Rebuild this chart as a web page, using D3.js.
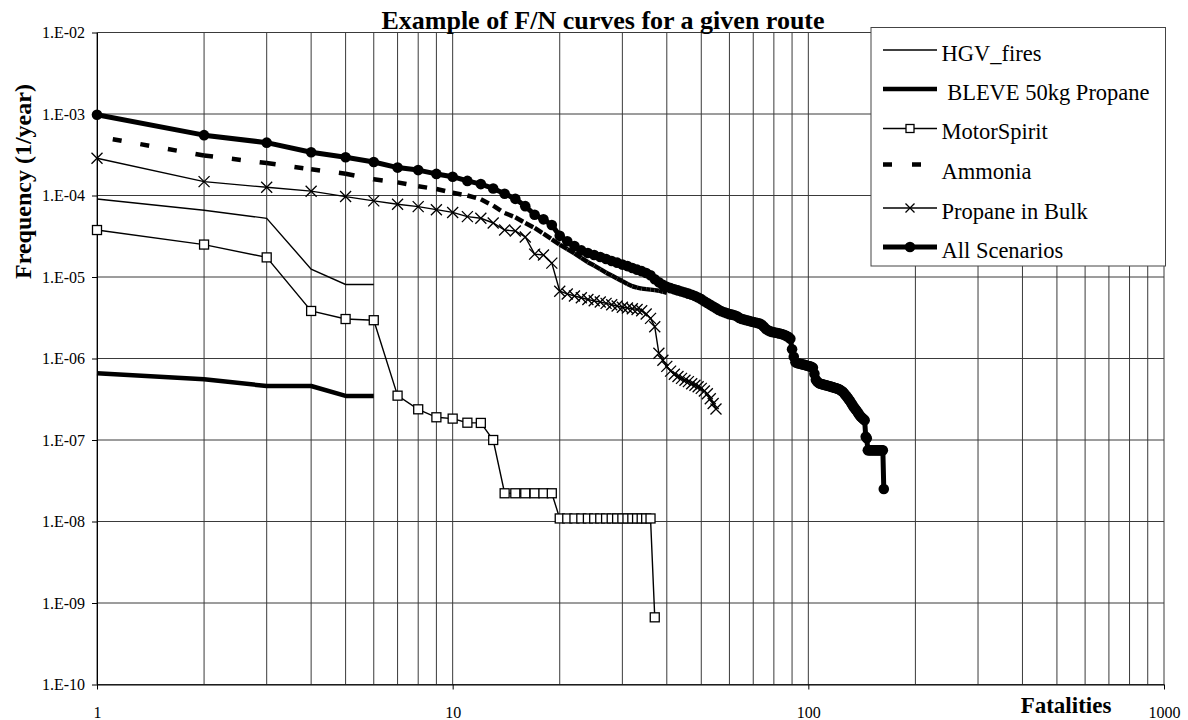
<!DOCTYPE html>
<html>
<head>
<meta charset="utf-8">
<script src="https://cdn.jsdelivr.net/npm/d3@7"></script>
<style>
  body { margin: 0; background: #fff; }
  svg { display: block; }
  svg text { font-family: "Liberation Serif", "Times New Roman", serif; }
</style>
</head>
<body>
<div id="chart"></div>
<script>
// values, index i -> fatalities N = i + 1
const hgvFires = [9.06e-5, 6.6e-5, 5.25e-5, 1.25e-5, 8.1e-6, 8.1e-6];
const bleve50kg = [6.58e-7, 5.55e-7, 4.6e-7, 4.6e-7, 3.47e-7, 3.47e-7];
const motorSpirit = [3.77e-5, 2.5e-5, 1.74e-5, 3.83e-6, 3.05e-6, 2.95e-6, 3.5e-7, 2.38e-7, 1.9e-7, 1.83e-7,
  1.63e-7, 1.62e-7, 1.0e-7, 2.22e-8, 2.22e-8, 2.22e-8, 2.22e-8, 2.22e-8, 2.22e-8, 1.09e-8,
  1.09e-8, 1.09e-8, 1.09e-8, 1.09e-8, 1.09e-8, 1.09e-8, 1.09e-8, 1.09e-8, 1.09e-8, 1.09e-8,
  1.09e-8, 1.09e-8, 1.09e-8, 1.09e-8, 1.09e-8, 1.09e-8, 6.67e-10];
const ammonia = [5.3e-4, 3.1e-4, 2.5e-4, 2.1e-4, 1.85e-4, 1.58e-4, 1.45e-4, 1.3e-4, 1.2e-4, 1.08e-4,
  1.0e-4, 9.0e-5, 7.5e-5, 6.1e-5, 5.4e-5, 4.6e-5, 4.0e-5, 3.4e-5, 2.9e-5, 2.5e-5,
  2.2e-5, 1.95e-5, 1.72e-5, 1.52e-5, 1.38e-5, 1.25e-5, 1.13e-5, 1.04e-5, 9.6e-6, 8.9e-6,
  8.2e-6, 7.7e-6, 7.4e-6, 7.2e-6, 7.1e-6, 7.0e-6, 6.9e-6, 6.8e-6, 6.6e-6, 6.4e-6];
const propaneBulk = [2.86e-4, 1.48e-4, 1.26e-4, 1.13e-4, 9.7e-5, 8.6e-5, 7.8e-5, 7.3e-5, 6.7e-5, 6.2e-5,
  5.5e-5, 5.25e-5, 4.6e-5, 3.77e-5, 3.67e-5, 3.1e-5, 1.91e-5, 1.86e-5, 1.48e-5, 6.7e-6,
  6.2e-6, 5.85e-6, 5.57e-6, 5.3e-6, 5.1e-6, 4.93e-6, 4.75e-6, 4.57e-6, 4.4e-6, 4.25e-6,
  4.17e-6, 4.08e-6, 4.0e-6, 3.86e-6, 3.52e-6, 3.11e-6, 2.45e-6, 1.16e-6, 9.5e-7, 8.0e-7,
  7.0e-7, 6.4e-7, 6.0e-7, 5.7e-7, 5.4e-7, 5.2e-7, 4.9e-7, 4.7e-7, 4.5e-7, 4.3e-7,
  4.0e-7, 3.7e-7, 3.2e-7, 2.8e-7, 2.4e-7];
const allScenarios = [9.8e-4, 5.5e-4, 4.45e-4, 3.4e-4, 2.95e-4, 2.58e-4, 2.2e-4, 2.05e-4, 1.84e-4, 1.7e-4,
  1.51e-4, 1.38e-4, 1.22e-4, 1.05e-4, 9.1e-5, 7.4e-5, 5.8e-5, 5.1e-5, 4.35e-5, 3.2e-5,
  2.75e-5, 2.4e-5, 2.12e-5, 1.97e-5, 1.86e-5, 1.76e-5, 1.66e-5, 1.57e-5, 1.5e-5, 1.42e-5,
  1.36e-5, 1.29e-5, 1.23e-5, 1.18e-5, 1.12e-5, 1.05e-5, 9.4e-6, 8.6e-6, 8.0e-6, 7.6e-6,
  7.3e-6, 7.05e-6, 6.85e-6, 6.65e-6, 6.45e-6, 6.25e-6, 6.05e-6, 5.85e-6, 5.6e-6, 5.35e-6,
  5.05e-6, 4.8e-6, 4.55e-6, 4.35e-6, 4.15e-6, 3.95e-6, 3.8e-6, 3.7e-6, 3.6e-6, 3.5e-6,
  3.45e-6, 3.4e-6, 3.3e-6, 3.15e-6, 3.05e-6, 3.0e-6, 2.95e-6, 2.9e-6, 2.85e-6, 2.8e-6,
  2.76e-6, 2.72e-6, 2.68e-6, 2.6e-6, 2.45e-6, 2.3e-6, 2.22e-6, 2.16e-6, 2.12e-6, 2.1e-6,
  2.07e-6, 2.05e-6, 2.03e-6, 2.0e-6, 1.97e-6, 1.93e-6, 1.88e-6, 1.83e-6, 1.75e-6, 1.3e-6,
  1.05e-6, 9.0e-7, 8.8e-7, 8.7e-7, 8.6e-7, 8.5e-7, 8.4e-7, 8.3e-7, 8.2e-7, 8.1e-7,
  8.0e-7, 7.9e-7, 7.7e-7, 6.5e-7, 5.5e-7, 5.2e-7, 5.0e-7, 4.9e-7, 4.85e-7, 4.8e-7,
  4.75e-7, 4.7e-7, 4.65e-7, 4.6e-7, 4.55e-7, 4.5e-7, 4.45e-7, 4.4e-7, 4.35e-7, 4.3e-7,
  4.25e-7, 4.2e-7, 4.1e-7, 4.0e-7, 3.9e-7, 3.75e-7, 3.6e-7, 3.45e-7, 3.3e-7, 3.15e-7,
  3.0e-7, 2.85e-7, 2.7e-7, 2.55e-7, 2.45e-7, 2.35e-7, 2.25e-7, 2.15e-7, 2.05e-7, 1.95e-7,
  1.9e-7, 1.85e-7, 1.8e-7, 1.75e-7, 1.1e-7, 1.05e-7, 7.5e-8, 7.5e-8, 7.5e-8, 7.5e-8,
  7.5e-8, 7.5e-8, 7.5e-8, 7.5e-8, 7.5e-8, 7.5e-8, 7.5e-8, 7.5e-8, 7.5e-8, 7.5e-8,
  7.5e-8, 7.5e-8, 2.5e-8];
const yTicks = [1e-10, 1e-9, 1e-8, 1e-7, 1e-6, 1e-5, 1e-4, 1e-3, 1e-2];
const xTicks = [1, 10, 100, 1000];
const legendNames = ["HGV_fires", " BLEVE 50kg Propane", "MotorSpirit", "Ammonia", "Propane in Bulk", "All Scenarios"];

const SERIF = "Liberation Serif";
const width = 1188, height = 720;
const x = d3.scaleLog().domain([1, 1000]).range([97, 1164]);
const y = d3.scaleLog().domain([1e-10, 1e-2]).range([684.5, 32.5]);

const toPts = arr => arr.map((f, i) => ({n: i + 1, f}));
const line = d3.line().x(d => x(d.n)).y(d => y(d.f));

const svg = d3.select("#chart").append("svg")
    .attr("width", width)
    .attr("height", height)
    .attr("viewBox", [0, 0, width, height]);

// grid
svg.append("g")
    .selectAll("line")
    .data(x.ticks())
    .join("line")
    .attr("x1", d => x(d)).attr("x2", d => x(d))
    .attr("y1", y(1e-2)).attr("y2", y(1e-10))
    .attr("stroke", "#3a3a3a").attr("stroke-width", 1);
svg.append("g")
    .selectAll("line")
    .data(yTicks)
    .join("line")
    .attr("x1", x(1)).attr("x2", x(1000))
    .attr("y1", d => y(d)).attr("y2", d => y(d))
    .attr("stroke", "#3a3a3a").attr("stroke-width", 1);

const expFmt = d => "1.E-" + String(Math.round(-Math.log10(d))).padStart(2, "0");

svg.append("g")
    .attr("transform", `translate(${x(1)},0)`)
    .attr("font-family", SERIF)
    .call(d3.axisLeft(y).tickValues(yTicks).tickFormat(expFmt).tickSize(5).tickSizeOuter(0).tickPadding(7))
    .call(g => g.attr("font-family", SERIF))
    .call(g => g.selectAll("text").attr("font-size", 16).attr("font-family", SERIF).attr("fill", "#000"))
    .call(g => g.selectAll("line, path").attr("stroke", "#000"));
svg.append("g")
    .attr("transform", `translate(0,${y(1e-10)})`)
    .call(d3.axisBottom(x).tickValues(xTicks).tickFormat(d3.format("d")).tickSize(5).tickSizeOuter(0).tickPadding(17))
    .call(g => g.attr("font-family", SERIF))
    .call(g => g.selectAll("text").attr("font-size", 16).attr("font-family", SERIF).attr("fill", "#000"))
    .call(g => g.selectAll("line, path").attr("stroke", "#000"));

// titles
svg.append("text")
    .attr("x", 603).attr("y", 28.5)
    .attr("text-anchor", "middle")
    .attr("font-family", SERIF)
    .attr("font-weight", "bold").attr("font-size", 26)
    .text("Example of F/N curves for a given route");
svg.append("text")
    .attr("x", 1066).attr("y", 713)
    .attr("text-anchor", "middle")
    .attr("font-family", SERIF)
    .attr("font-weight", "bold").attr("font-size", 23)
    .text("Fatalities");
svg.append("text")
    .attr("transform", "translate(31,181.5) rotate(-90)")
    .attr("text-anchor", "middle")
    .attr("font-family", SERIF)
    .attr("font-weight", "bold").attr("font-size", 24)
    .text("Frequency (1/year)");

const plot = svg.append("g");

// HGV fires
plot.append("path").datum(toPts(hgvFires))
    .attr("fill", "none").attr("stroke", "#000").attr("stroke-width", 1.4)
    .attr("d", line);

// BLEVE
plot.append("path").datum(toPts(bleve50kg))
    .attr("fill", "none").attr("stroke", "#000").attr("stroke-width", 4.5)
    .attr("stroke-linejoin", "round")
    .attr("d", line);

// MotorSpirit
const ms = toPts(motorSpirit);
plot.append("path").datum(ms)
    .attr("fill", "none").attr("stroke", "#000").attr("stroke-width", 1.4)
    .attr("d", line);
plot.append("g").selectAll("rect").data(ms).join("rect")
    .attr("x", d => x(d.n) - 4.5).attr("y", d => y(d.f) - 4.5)
    .attr("width", 9).attr("height", 9)
    .attr("fill", "#fff").attr("stroke", "#000").attr("stroke-width", 1.3);

// Ammonia: dash pattern restarts on every segment (short ones look solid)
const am = toPts(ammonia);
plot.append("g").selectAll("path").data(d3.pairs(am)).join("path")
    .attr("fill", "none").attr("stroke", "#000").attr("stroke-width", 4.5)
    .attr("stroke-dasharray", "9,19")
    .attr("stroke-dashoffset", (d, i) => i === 0 ? 12 : 0)
    .attr("d", d => line(d));

// Propane in bulk
const pb = toPts(propaneBulk);
plot.append("path").datum(pb)
    .attr("fill", "none").attr("stroke", "#000").attr("stroke-width", 1.4)
    .attr("d", line);
const xMark = (cx, cy, s) => `M${cx - s},${cy - s}L${cx + s},${cy + s}M${cx - s},${cy + s}L${cx + s},${cy - s}`;
plot.append("g").selectAll("path").data(pb).join("path")
    .attr("d", d => xMark(x(d.n), y(d.f), 5.5))
    .attr("stroke", "#000").attr("stroke-width", 1.3);

// All scenarios
const al = toPts(allScenarios);
plot.append("path").datum(al)
    .attr("fill", "none").attr("stroke", "#000").attr("stroke-width", 5)
    .attr("stroke-linejoin", "round")
    .attr("d", line);
plot.append("g").selectAll("circle").data(al).join("circle")
    .attr("cx", d => x(d.n)).attr("cy", d => y(d.f)).attr("r", 5.3)
    .attr("fill", "#000");

// legend
const lg = svg.append("g");
lg.append("rect")
    .attr("x", 871).attr("y", 27.5).attr("width", 294.5).attr("height", 238.5)
    .attr("fill", "#fff").attr("stroke", "#444").attr("stroke-width", 1);
const rowY = [53, 92, 131.5, 171.5, 211, 250];
lg.selectAll("text").data(legendNames).join("text")
    .attr("x", 941.5).attr("y", (d, i) => rowY[i])
    .attr("dy", "0.35em")
    .attr("font-family", SERIF)
    .attr("font-size", 22.5)
    .style("white-space", "pre")
    .text(d => d);
const sx0 = 883, sx1 = 937, smid = 910;
lg.append("line").attr("x1", sx0).attr("x2", sx1).attr("y1", rowY[0] - 3).attr("y2", rowY[0] - 3)
    .attr("stroke", "#000").attr("stroke-width", 1.4);
lg.append("line").attr("x1", sx0).attr("x2", sx1).attr("y1", rowY[1] - 3).attr("y2", rowY[1] - 3)
    .attr("stroke", "#000").attr("stroke-width", 4.5);
lg.append("line").attr("x1", sx0).attr("x2", sx1).attr("y1", rowY[2] - 3).attr("y2", rowY[2] - 3)
    .attr("stroke", "#000").attr("stroke-width", 1.4);
lg.append("rect").attr("x", smid - 4).attr("y", rowY[2] - 7).attr("width", 8).attr("height", 8)
    .attr("fill", "#fff").attr("stroke", "#000").attr("stroke-width", 1.3);
lg.append("line").attr("x1", sx0).attr("x2", sx1).attr("y1", rowY[3] - 7).attr("y2", rowY[3] - 7)
    .attr("stroke", "#000").attr("stroke-width", 4.5).attr("stroke-dasharray", "9,20");
lg.append("line").attr("x1", sx0).attr("x2", sx1).attr("y1", rowY[4] - 3).attr("y2", rowY[4] - 3)
    .attr("stroke", "#000").attr("stroke-width", 1.4);
lg.append("path").attr("d", xMark(smid, rowY[4] - 3, 4.5)).attr("stroke", "#000").attr("stroke-width", 1.3);
lg.append("line").attr("x1", sx0).attr("x2", sx1).attr("y1", rowY[5] - 3).attr("y2", rowY[5] - 3)
    .attr("stroke", "#000").attr("stroke-width", 5);
lg.append("circle").attr("cx", smid).attr("cy", rowY[5] - 3).attr("r", 5.3).attr("fill", "#000");
</script>
</body>
</html>
